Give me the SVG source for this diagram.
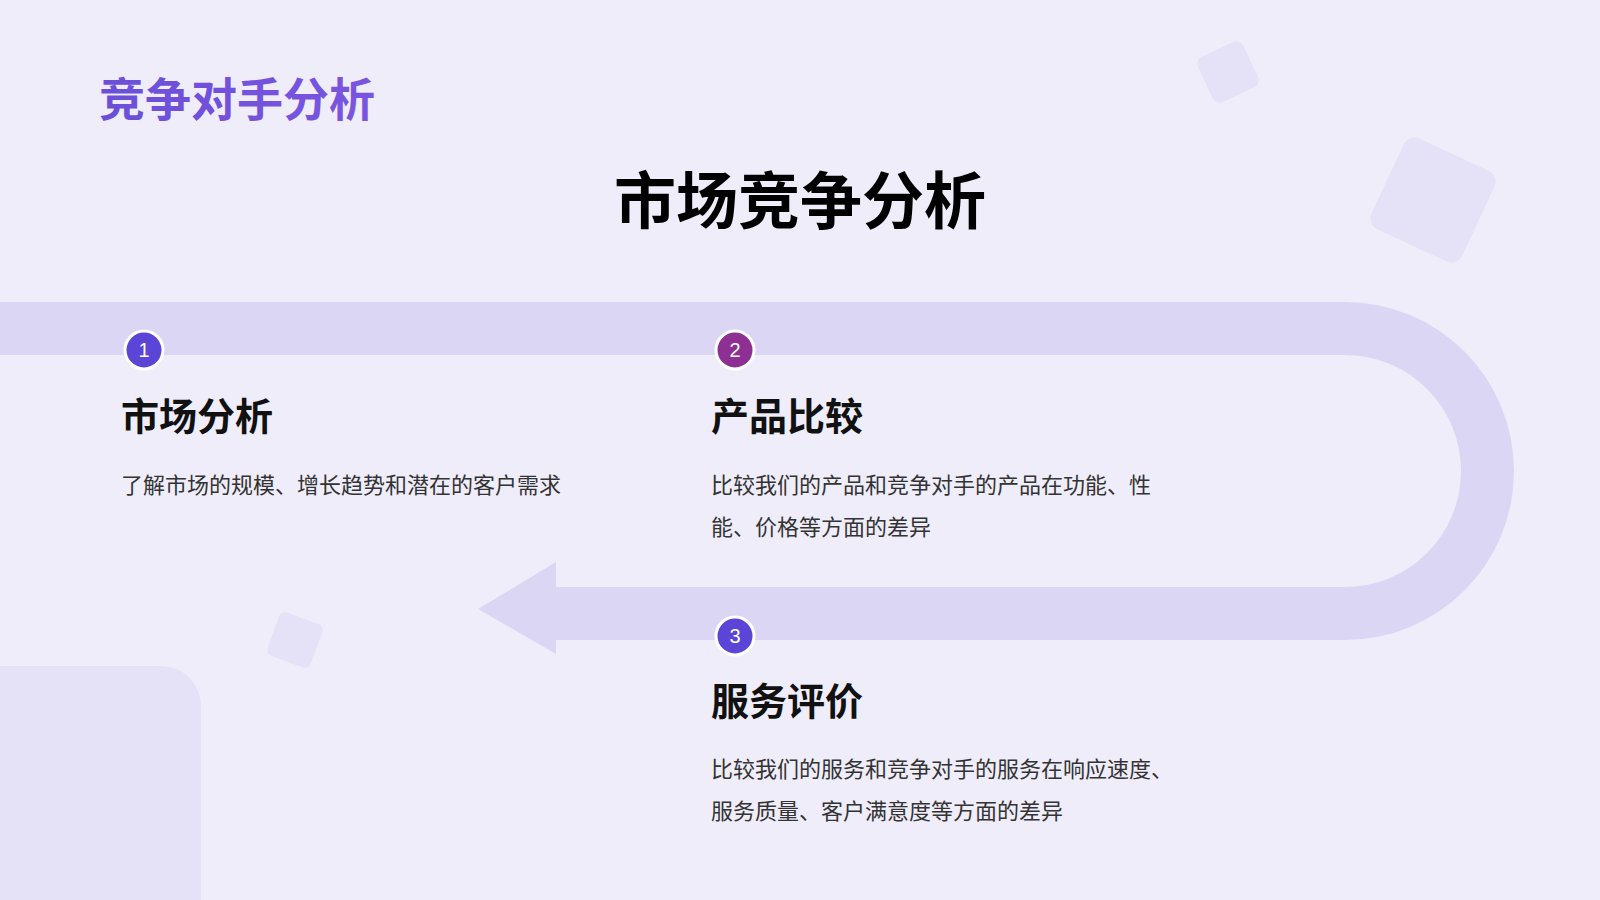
<svg xmlns="http://www.w3.org/2000/svg" width="1600" height="900" viewBox="0 0 1600 900">
<defs>
<linearGradient id="tg" x1="0" x2="1"><stop offset="0" stop-color="#6b4fd8"/><stop offset="1" stop-color="#7a55e0"/></linearGradient>
<style>
.cjk{font-family:"Noto Sans CJK SC","Liberation Sans",sans-serif}
.h{font-size:38px;font-weight:700;fill:#111}
.d{font-size:22px;fill:#333}
.num{font-family:"Liberation Sans",sans-serif;font-size:20px;fill:#fff;text-anchor:middle}
.deco{fill:#e5e1f6}
.band{fill:#dcd6f5}
</style>
</defs>
<rect width="1600" height="900" fill="#efedfa"/>
<g id="decorations">
<rect class="deco" x="1203" y="47" width="50" height="50" rx="8" transform="rotate(-25 1228 72)"/>
<rect class="deco" x="1383" y="150" width="100" height="100" rx="12" transform="rotate(25 1433 200)"/>
<rect class="deco" x="272" y="617" width="46" height="46" rx="6" transform="rotate(20 295 640)"/>
<path class="deco" d="M0 666 H161 A40 40 0 0 1 201 706 V900 H0 Z"/>
</g>
<text class="cjk" x="99" y="116" font-size="46" font-weight="700" fill="url(#tg)">竞争对手分析</text>
<text class="cjk" x="800" y="224" font-size="62" font-weight="700" fill="#000" text-anchor="middle">市场竞争分析</text>
<g id="connectors">
<path class="band" d="M0 302 H1345 A168 168 0 0 1 1345 640 H556 V654 L478 609 L556 562 V587 H1345 A115 115 0 0 0 1345 355 H0 Z"/>
</g>
<g id="node1">
<circle cx="144" cy="350" r="19" fill="#5b45d6" stroke="#fff" stroke-width="3"/>
<text class="num" x="144" y="357">1</text>
<text class="cjk h" x="121" y="430">市场分析</text>
<text class="cjk d" x="121" y="493">了解市场的规模、增长趋势和潜在的客户需求</text>
</g>
<g id="node2">
<circle cx="735" cy="350" r="19" fill="#8e2f93" stroke="#fff" stroke-width="3"/>
<text class="num" x="735" y="357">2</text>
<text class="cjk h" x="711" y="430">产品比较</text>
<text class="cjk d" x="711" y="493">比较我们的产品和竞争对手的产品在功能、性</text>
<text class="cjk d" x="711" y="535">能、价格等方面的差异</text>
</g>
<g id="node3">
<circle cx="735" cy="636" r="19" fill="#5b45d6" stroke="#fff" stroke-width="3"/>
<text class="num" x="735" y="643">3</text>
<text class="cjk h" x="711" y="715">服务评价</text>
<text class="cjk d" x="711" y="777">比较我们的服务和竞争对手的服务在响应速度、</text>
<text class="cjk d" x="711" y="819">服务质量、客户满意度等方面的差异</text>
</g>
</svg>
